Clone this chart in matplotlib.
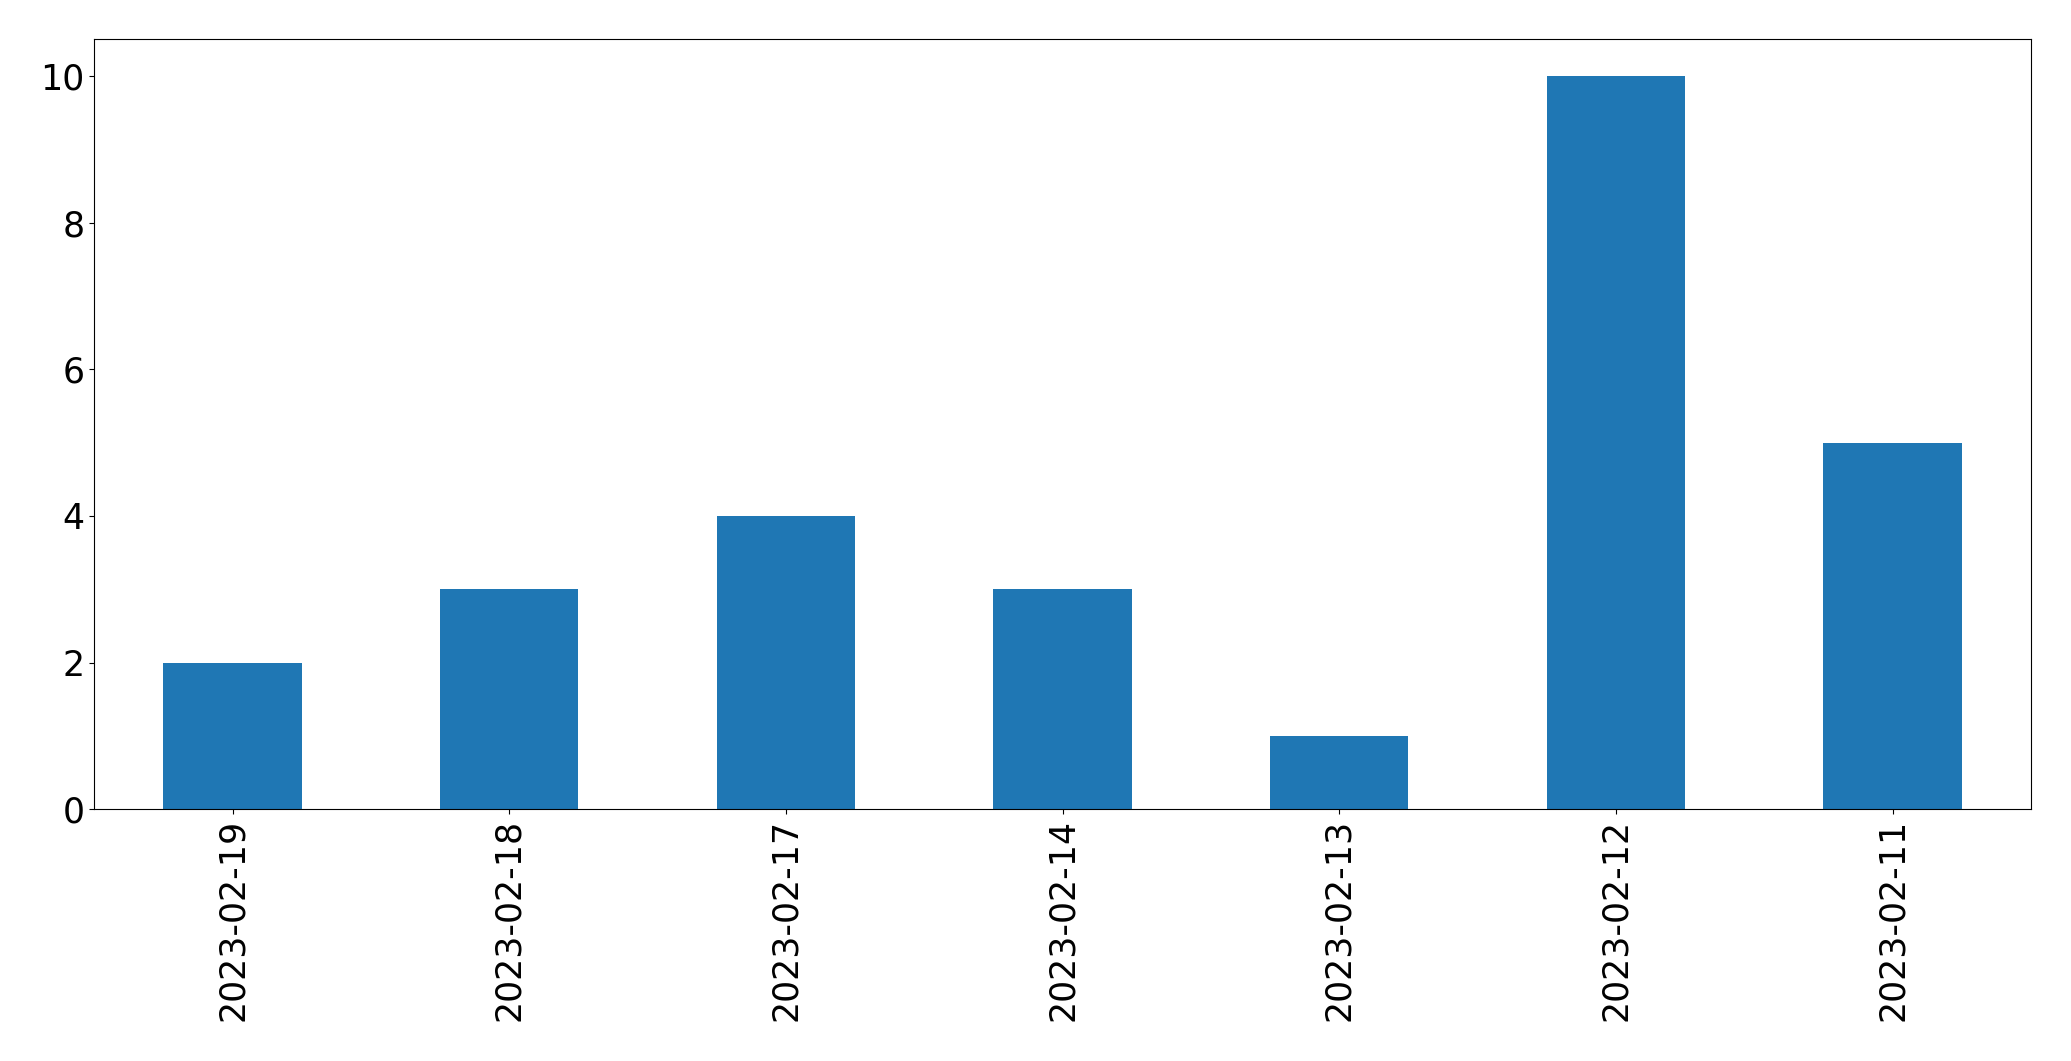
import matplotlib
matplotlib.use("Agg")
import matplotlib.pyplot as plt

dates = ["2023-02-19", "2023-02-18", "2023-02-17", "2023-02-14",
         "2023-02-13", "2023-02-12", "2023-02-11"]
counts = [2, 3, 4, 3, 1, 10, 5]

fig = plt.figure(figsize=(20.71, 10.61), dpi=100)
ax = fig.add_axes([94.3 / 2071, 1 - 809.3 / 1061, (2031 - 94.3) / 2071, (809.3 - 39.3) / 1061])
x = list(range(len(dates)))
ax.bar(x, counts, width=0.5, color="#1f77b4")
ax.set_xlim(-0.5, len(dates) - 0.5)
ax.set_ylim(0, 10.5)
ax.set_xticks(x)
ax.set_xticklabels(dates, rotation=90)
ax.tick_params(labelsize=25)
fig.savefig("out.png", dpi=100)
